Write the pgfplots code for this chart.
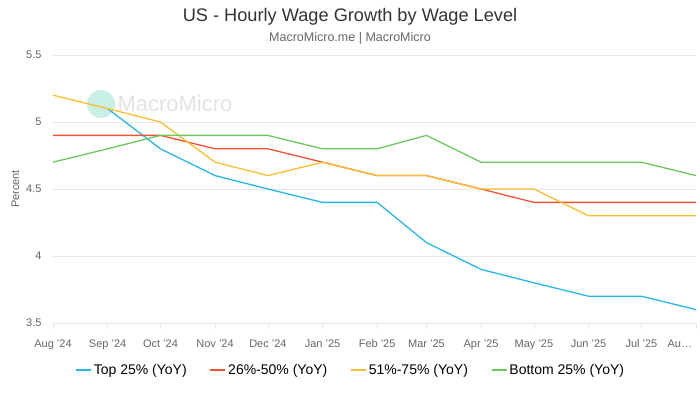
\documentclass[border=0pt]{standalone}
\usepackage{fontspec}
\setmainfont{Liberation Sans}
\usepackage{pgfplots}
\pgfplotsset{compat=1.18}
\usepackage{pgfplotstable}
\definecolor{cBlue}{RGB}{41,182,230}
\definecolor{cRed}{RGB}{240,82,50}
\definecolor{cOrange}{RGB}{251,190,50}
\definecolor{cGreen}{RGB}{108,200,92}
\definecolor{cGrid}{RGB}{230,230,230}
\definecolor{cTick}{RGB}{102,102,102}
\definecolor{cTitle}{RGB}{51,51,51}
\definecolor{cMark}{RGB}{200,240,230}
% x = days since 1 Aug 2024
\pgfplotstableread{
x y
31 5.1
61 4.8
92 4.6
122 4.5
153 4.4
184 4.4
212 4.1
243 3.9
273 3.8
304 3.7
334 3.7
365 3.6
}\topq
\pgfplotstableread{
x y
0 4.9
31 4.9
61 4.9
92 4.8
122 4.8
153 4.7
184 4.6
212 4.6
243 4.5
273 4.4
304 4.4
334 4.4
365 4.4
}\secq
\pgfplotstableread{
x y
0 5.2
31 5.1
61 5.0
92 4.7
122 4.6
153 4.7
184 4.6
212 4.6
243 4.5
273 4.5
304 4.3
334 4.3
365 4.3
}\thirdq
\pgfplotstableread{
x y
0 4.7
31 4.8
61 4.9
92 4.9
122 4.9
153 4.8
184 4.8
212 4.9
243 4.7
273 4.7
304 4.7
334 4.7
365 4.6
}\botq
\begin{document}
\begin{tikzpicture}[x=1pt,y=1pt]
\useasboundingbox (0,0) rectangle (700,393);
\node[font=\fontsize{18.2}{21}\selectfont, text=cTitle] at (350,376) {US - Hourly Wage Growth by Wage Level};
\node[font=\fontsize{12.5}{15}\selectfont, text=cTick] at (350,355) {MacroMicro.me | MacroMicro};
% watermark
\fill[cMark] (101,289) circle (14);
\node[font=\fontsize{22}{24}\selectfont, text=black!11, anchor=west] at (114,289) {MacroMicro};
\begin{axis}[
  at={(53pt,70pt)}, anchor=south west,
  scale only axis, width=643pt, height=268pt,
  xmin=0, xmax=365, ymin=3.5, ymax=5.5,
  axis x line*=bottom, axis y line*=left,
  y axis line style={draw=none},
  x axis line style={draw=cGrid, line width=0.8pt},
  xtick={0,31,61,92,122,153,184,212,243,273,304,334,365},
  xticklabels={Aug '24,Sep '24,Oct '24,Nov '24,Dec '24,Jan '25,Feb '25,Mar '25,Apr '25,May '25,Jun '25,Jul '25,\llap{Au\ldots\kern4pt}},
  ytick={3.5,4,4.5,5,5.5},
  yticklabels={3.5,4,4.5,5,5.5},
  xtick align=outside,
  major tick length=6pt,
  xtick style={draw=cGrid, line width=0.8pt},
  ytick style={draw=none},
  ymajorgrids, grid style={draw=cGrid, line width=0.8pt},
  xticklabel style={font=\fontsize{11}{13}\selectfont, text=cTick, yshift=-7pt},
  yticklabel style={font=\fontsize{11}{13}\selectfont, text=cTick, xshift=-8pt},
  ylabel={Percent},
  ylabel style={font=\fontsize{11}{13}\selectfont, text=cTick, yshift=0pt},
  legend columns=4,
  legend style={at={(0.463,-0.175)}, anchor=center, draw=none, fill=none,
    font=\fontsize{14}{16}\selectfont, text=black,
    /tikz/every even column/.append style={column sep=21pt}},
  legend image code/.code={\draw[#1, line width=1.5pt] (0pt,0pt) -- (15pt,0pt);},
  every axis plot/.append style={line width=1.3pt},
  clip=false,
]
\addplot[cBlue, mark=none] table[x=x,y=y] {\topq};
\addplot[cRed, mark=none] table[x=x,y=y] {\secq};
\addplot[cOrange, mark=none] table[x=x,y=y] {\thirdq};
\addplot[cGreen, mark=none] table[x=x,y=y] {\botq};
\legend{Top 25\% (YoY),26\%-50\% (YoY),51\%-75\% (YoY),Bottom 25\% (YoY)}
\end{axis}
\end{tikzpicture}
\end{document}
